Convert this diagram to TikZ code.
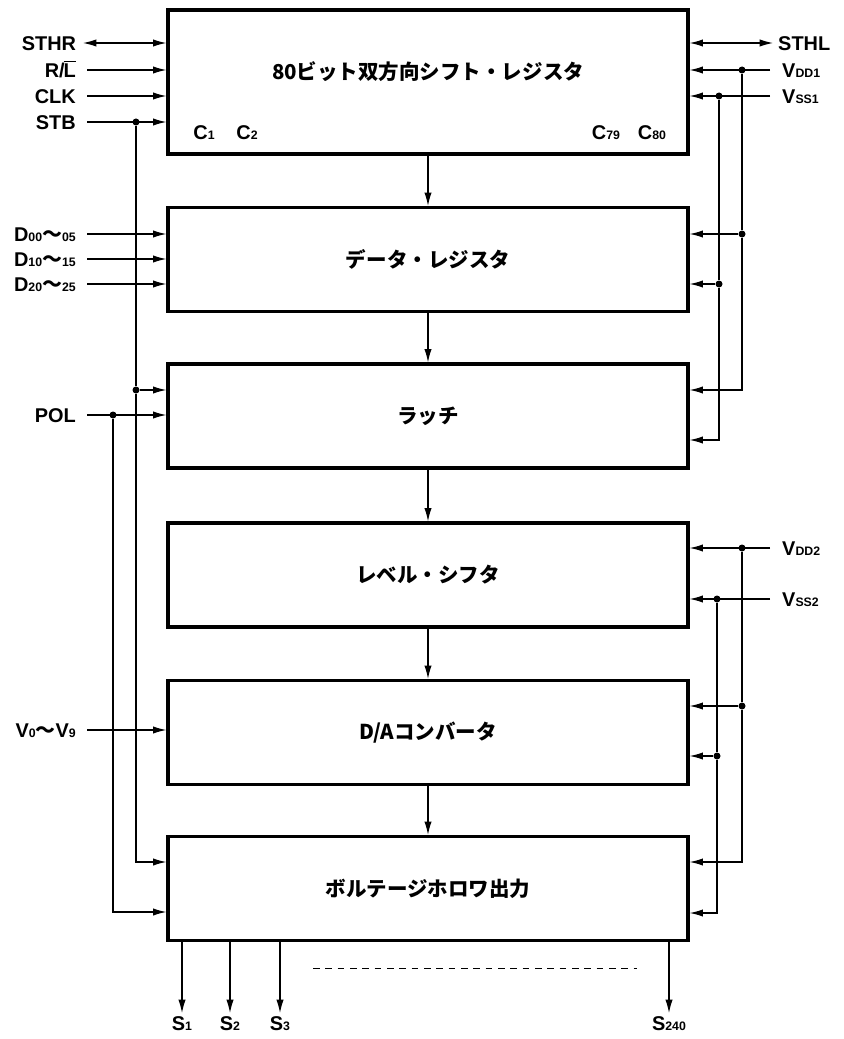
\documentclass[tikz,border=0pt]{standalone}
\usepackage{fontspec}
\setmainfont{Liberation Sans}
\newfontfamily\jp{Noto Sans CJK JP}
\usetikzlibrary{arrows.meta}
\newcommand{\sbs}[1]{{\fontsize{10.5pt}{11pt}\selectfont #1}}

\begin{document}
\begin{tikzpicture}[x=0.3mm, y=-0.3mm,
  every node/.style={inner sep=0pt, font=\fontsize{17pt}{19pt}\selectfont\bfseries},
  jtxt/.style={font=\fontsize{17.5pt}{19pt}\selectfont\jp\bfseries},
  blkbox/.style={draw, line width=2.8pt, minimum width=156mm, minimum height=31.2mm, jtxt},
  wire/.style={line width=1pt},
  sig/.style={wire, -{Latex[length=4mm,width=2.2mm]}},
  bisig/.style={wire, {Latex[length=4mm,width=2.2mm]}-{Latex[length=4mm,width=2.2mm]}},
  pinl/.style={anchor=east, inner xsep=3.3mm, text height=12pt, text depth=0pt},
  pinr/.style={anchor=west, inner xsep=3.6mm, text height=12pt, text depth=0pt},
  pinb/.style={anchor=north, inner ysep=1mm, text height=12pt, text depth=0pt},
  jdot/.style={circle, fill, minimum size=2.1mm}]
\useasboundingbox (0,0) rectangle (843,1039);
% blocks
\node[blkbox, minimum height=43.2mm] (sr) at (428,82) {};
\node[jtxt] (srt) at (428,72) {80ビット双方向シフト・レジスタ};
\node[blkbox] (dr) at (428,259.5) {データ・レジスタ};
\node[blkbox] (lt) at (428,416) {ラッチ};
\node[blkbox] (ls) at (428,575) {レベル・シフタ};
\node[blkbox] (da) at (428,732.5) {D/Aコンバータ};
\node[blkbox] (vf) at (428,888.5) {ボルテージホロワ出力};
\node (c1) at (204,133) {C\sbs{1}}; \node (c2) at (247,133) {C\sbs{2}};
\node (c79) at (606,133) {C\sbs{79}}; \node (c80) at (652,133) {C\sbs{80}};
\draw[sig] (sr) -- (dr); \draw[sig] (dr) -- (lt); \draw[sig] (lt) -- (ls);
\draw[sig] (ls) -- (da); \draw[sig] (da) -- (vf);
% left inputs
\node[pinl, inner xsep=2mm] (psthr) at (83,43) {STHR};
\node[pinl] (prl) at (87,70) {R/\kern-1pt$\overline{\mbox{L}}$};
\node[pinl] (pclk) at (87,96) {CLK};
\node[pinl] (pstb) at (87,122) {STB};
\node[pinl] (pd0) at (87,234) {D\sbs{00}{\jp 〜}\sbs{05}};
\node[pinl] (pd1) at (87,259) {D\sbs{10}{\jp 〜}\sbs{15}};
\node[pinl] (pd2) at (87,284) {D\sbs{20}{\jp 〜}\sbs{25}};
\node[pinl] (ppol) at (87,415) {POL};
\node[pinl] (pv) at (87,730) {V\sbs{0}{\jp 〜}V\sbs{9}};
\draw[bisig] (psthr.east) -- (psthr.east -| sr.west);
\draw[sig] (prl.east) -- (prl.east -| sr.west); \draw[sig] (pclk.east) -- (pclk.east -| sr.west);
\draw[sig] (pstb.east) -- (pstb.east -| sr.west);
\draw[sig] (pd0.east) -- (pd0.east -| dr.west); \draw[sig] (pd1.east) -- (pd1.east -| dr.west);
\draw[sig] (pd2.east) -- (pd2.east -| dr.west);
\draw[sig] (ppol.east) -- (ppol.east -| lt.west); \draw[sig] (pv.east) -- (pv.east -| da.west);
% STB and POL rails
\node[jdot] (jstba) at (136,122) {}; \node[jdot] (jstbb) at (136,390) {};
\coordinate (jstbc) at (136,862);
\draw[wire] (jstba) -- (jstbb);
\draw[sig] (jstbb) -- (jstbb -| lt.west);
\draw[sig] (jstbb) -- (jstbc) -- (jstbc -| vf.west);
\node[jdot] (jpol) at (113,415) {}; \coordinate (jpolc) at (113,912);
\draw[sig] (jpol) -- (jpolc) -- (jpolc -| vf.west);
% right side
\node[pinr, inner xsep=1.5mm] (psthl) at (773,43) {STHL};
\node[pinr] (pvdd1) at (770,70) {V\sbs{DD1}};
\node[pinr] (pvss1) at (770,96) {V\sbs{SS1}};
\node[pinr] (pvdd2) at (770,548) {V\sbs{DD2}};
\node[pinr] (pvss2) at (770,599) {V\sbs{SS2}};
\draw[bisig] (psthl.west -| sr.east) -- (psthl.west);
\draw[sig] (pvdd1.west) -- (pvdd1.west -| sr.east); \draw[sig] (pvss1.west) -- (pvss1.west -| sr.east);
\draw[sig] (pvdd2.west) -- (pvdd2.west -| ls.east); \draw[sig] (pvss2.west) -- (pvss2.west -| ls.east);
\node[jdot] (jd1a) at (742,70) {}; \node[jdot] (jd1b) at (742,234) {}; \coordinate (jd1c) at (742,390);
\node[jdot] (js1a) at (719,96) {}; \node[jdot] (js1b) at (719,284) {}; \coordinate (js1c) at (719,440);
\draw[wire] (jd1a) -- (jd1b); \draw[sig] (jd1b) -- (jd1b -| dr.east); \draw[sig] (jd1b) -- (jd1c) -- (jd1c -| lt.east);
\draw[wire] (js1a) -- (js1b); \draw[sig] (js1b) -- (js1b -| dr.east); \draw[sig] (js1b) -- (js1c) -- (js1c -| lt.east);
\node[jdot] (jd2a) at (742,548) {}; \node[jdot] (jd2b) at (742,706) {}; \coordinate (jd2c) at (742,862);
\node[jdot] (js2a) at (717,599) {}; \node[jdot] (js2b) at (717,756) {}; \coordinate (js2c) at (717,913);
\draw[wire] (jd2a) -- (jd2b); \draw[sig] (jd2b) -- (jd2b -| da.east); \draw[sig] (jd2b) -- (jd2c) -- (jd2c -| vf.east);
\draw[wire] (js2a) -- (js2b); \draw[sig] (js2b) -- (js2b -| da.east); \draw[sig] (js2b) -- (js2c) -- (js2c -| vf.east);
% outputs
\node[pinb] (s1) at (182,1013) {S\sbs{1}}; \node[pinb] (s2) at (230,1013) {S\sbs{2}};
\node[pinb] (s3) at (280,1013) {S\sbs{3}}; \node[pinb] (s240) at (669,1013) {S\sbs{240}};
\draw[sig] (s1.north |- vf.south) -- (s1.north); \draw[sig] (s2.north |- vf.south) -- (s2.north);
\draw[sig] (s3.north |- vf.south) -- (s3.north); \draw[sig] (s240.north |- vf.south) -- (s240.north);
\coordinate (dsa) at (313,968); \coordinate (dsb) at (637,968);
\draw[line width=0.6pt, dash pattern=on 2mm off 1.7mm] (dsa) -- (dsb);
\end{tikzpicture}
\end{document}
